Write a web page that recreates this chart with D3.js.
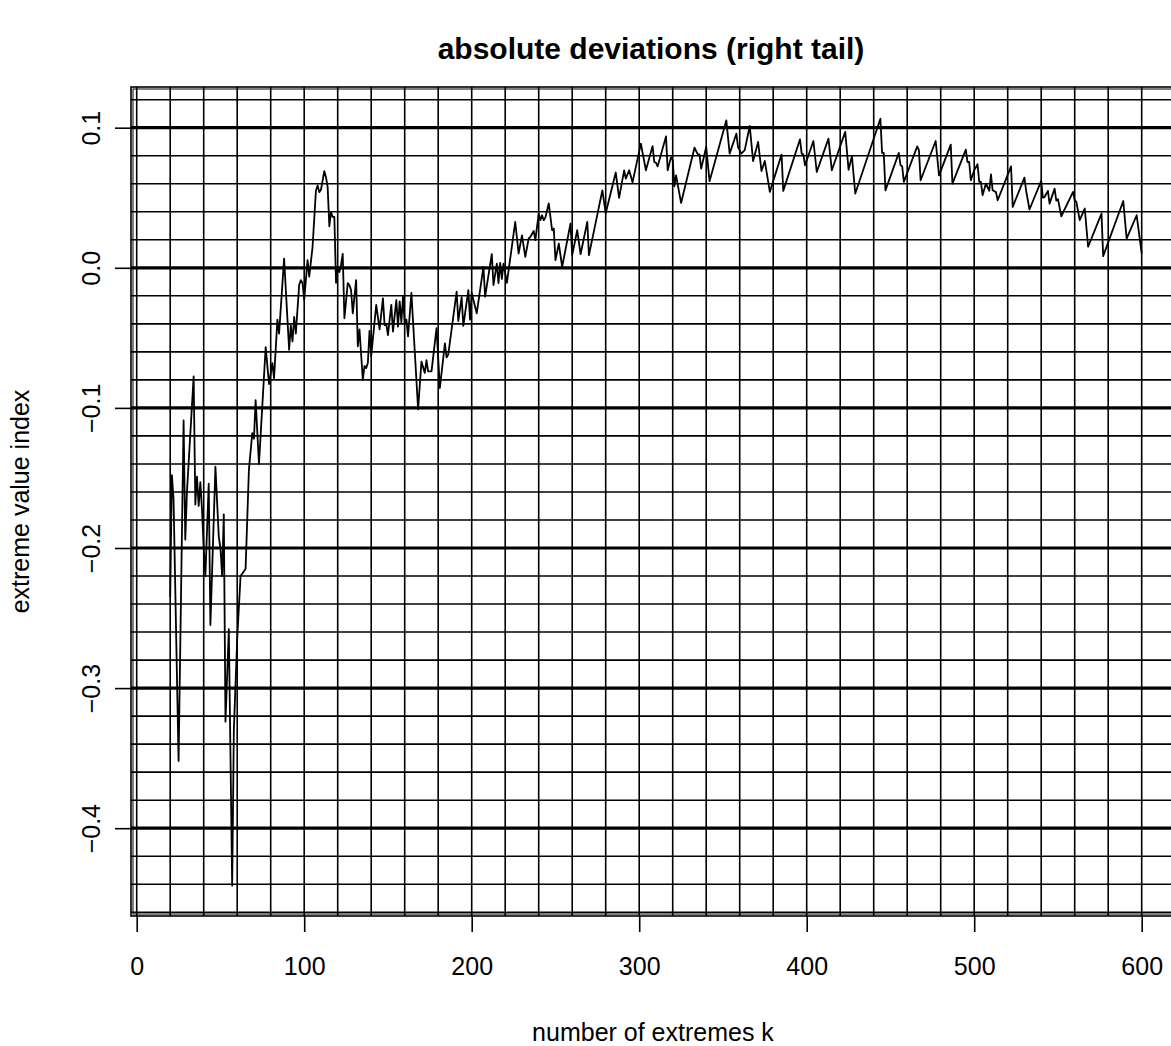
<!DOCTYPE html>
<html><head><meta charset="utf-8">
<script src="https://cdn.jsdelivr.net/npm/d3@7"></script>
<style>body{margin:0;background:#fff}</style>
</head><body>
<script>
// number of extremes k
const ks = [20,21,22,25,28,29,30,34,35,36,37,38,39,40,41,43,44,47,49,50,51,52,53,55,57,
58,60,62,65,67,69,70,71,73,77,79,81,82,84,85,88,91,92,93,94,95,97,98,99,100,
102,103,105,107,108,109,110,112,113,114,115,116,117,118,119,120,121,122,123,124,
126,127,128,129,131,132,133,135,136,137,138,139,140,143,145,147,148,149,150,152,
153,155,156,157,158,159,160,161,162,164,168,170,172,173,174,176,179,181,184,185,
186,191,192,194,195,198,199,200,203,207,208,212,213,215,216,217,218,219,221,226,
228,230,232,234,235,237,238,240,241,242,243,244,246,248,249,250,252,254,259,260,
263,265,269,270,278,280,286,288,291,292,294,296,301,304,308,309,310,311,316,317,
319,320,321,322,325,333,335,336,337,340,342,352,354,358,359,361,363,366,368,371,
373,375,378,385,386,396,397,398,399,404,406,413,415,423,425,427,429,444,445,446,
447,455,456,457,458,466,467,468,477,479,486,487,495,496,497,498,500,502,503,504,
505,507,509,510,511,513,514,522,523,530,531,533,540,541,542,544,545,548,549,550,
552,559,560,561,563,566,568,576,577,589,591,597,600];
// extreme value index estimate
const evi = [-0.235,-0.148,-0.165,-0.352,-0.109,-0.194,-0.160,-0.0775,-0.169,-0.149,-0.170,-0.153,-0.173,-0.200,-0.220,-0.154,-0.255,-0.142,-0.192,-0.200,-0.220,-0.176,-0.324,-0.258,-0.441,
-0.330,-0.265,-0.220,-0.215,-0.144,-0.118,-0.122,-0.0945,-0.140,-0.0566,-0.083,-0.068,-0.079,-0.037,-0.047,0.0066,-0.0585,-0.041,-0.0526,-0.035,-0.047,-0.0123,-0.0088,-0.011,-0.023,
0.0055,-0.0064,0.015,0.055,0.0588,0.054,0.0557,0.069,0.0647,0.0576,0.0296,0.0398,0.0363,0.0363,-0.0107,-0.0005,-0.003,0.002,0.010,-0.036,
-0.011,-0.0123,-0.016,-0.0325,-0.0088,-0.056,-0.044,-0.0799,-0.070,-0.0716,-0.068,-0.045,-0.063,-0.0265,-0.044,-0.0218,-0.041,-0.040,-0.048,-0.0265,
-0.0455,-0.023,-0.042,-0.024,-0.039,-0.0206,-0.0396,-0.037,-0.049,-0.018,-0.101,-0.067,-0.075,-0.066,-0.074,-0.074,-0.043,-0.0858,-0.054,-0.064,
-0.062,-0.017,-0.038,-0.021,-0.0415,-0.016,-0.037,-0.018,-0.0325,0.0007,-0.0206,0.0097,-0.0123,0.003,-0.011,0.0035,-0.008,0.003,-0.0107,0.0327,
0.0102,0.0232,0.0078,0.0209,0.022,0.0263,0.0197,0.0386,0.034,0.0375,0.034,0.036,0.046,0.0268,0.028,0.0055,0.0173,0.0007,0.0316,0.009,
0.0268,0.0097,0.0328,0.009,0.0553,0.039,0.068,0.0499,0.0696,0.0637,0.0696,0.0610,0.0886,0.0696,0.0869,0.0755,0.075,0.0724,0.0938,0.0696,
0.079,0.0772,0.0582,0.066,0.0463,0.0857,0.081,0.081,0.0708,0.0862,0.0618,0.1052,0.0815,0.0957,0.0862,0.0815,0.084,0.1012,0.0762,0.0898,
0.0691,0.0762,0.0542,0.0808,0.0549,0.0917,0.0815,0.081,0.0732,0.0905,0.0684,0.0922,0.0696,0.097,0.070,0.0796,0.053,0.1064,0.082,0.082,
0.0553,0.082,0.0732,0.0725,0.0613,0.0867,0.084,0.0625,0.0905,0.066,0.0879,0.0601,0.0843,0.0755,0.0755,0.0625,0.0696,0.0739,0.0613,0.0613,
0.0518,0.0601,0.055,0.0667,0.0553,0.054,0.0482,0.0724,0.0435,0.0644,0.055,0.0416,0.062,0.0501,0.0505,0.0549,0.0458,0.0565,0.048,0.049,
0.0368,0.0542,0.0482,0.047,0.034,0.0423,0.015,0.0387,0.0083,0.0477,0.0209,0.0375,0.0102];

const xTicks = [0,100,200,300,400,500,600];
const yTicks = [-0.4,-0.3,-0.2,-0.1,0.0,0.1];
const xGridVals = [0,20,40,60,80,100,120,140,160,180,200,220,240,260,280,300,320,340,360,380,400,420,440,460,480,500,520,540,560,580,600,620];
const yGridVals = [-0.46,-0.44,-0.42,-0.40,-0.38,-0.36,-0.34,-0.32,-0.30,-0.28,-0.26,-0.24,-0.22,-0.20,-0.18,-0.16,-0.14,-0.12,-0.10,-0.08,-0.06,-0.04,-0.02,0.0,0.02,0.04,0.06,0.08,0.10,0.12];
const yMajor = [-0.4,-0.3,-0.2,-0.1,0.0,0.1];

const W = 1171, H = 1046;
const x = d3.scaleLinear().domain([0, 600]).range([136.7, 1141.7]);
const y = d3.scaleLinear().domain([-0.4, 0.1]).range([828.2, 127.7]);
const pL = 131, pR = 1181, pT = 87, pB = 916;

const svg = d3.select("body").append("svg").attr("width", W).attr("height", H)
  .style("font-family", "'Liberation Sans', Arial, Helvetica, sans-serif");
svg.append("rect").attr("width", W).attr("height", H).attr("fill", "#fff");

svg.append("clipPath").attr("id", "plotclip").append("rect")
  .attr("x", pL).attr("y", pT).attr("width", pR - pL).attr("height", pB - pT);

const g = svg.append("g").attr("clip-path", "url(#plotclip)");
g.selectAll("line.vg").data(xGridVals).join("line").attr("class", "vg")
  .attr("x1", d => x(d)).attr("x2", d => x(d)).attr("y1", pT).attr("y2", pB)
  .attr("stroke", "#000").attr("stroke-width", 1.6);
g.selectAll("line.hg").data(yGridVals).join("line").attr("class", "hg")
  .attr("x1", pL).attr("x2", pR).attr("y1", d => y(d)).attr("y2", d => y(d))
  .attr("stroke", "#000").attr("stroke-width", 1.6);
g.selectAll("line.hm").data(yMajor).join("line").attr("class", "hm")
  .attr("x1", pL).attr("x2", pR).attr("y1", d => y(d)).attr("y2", d => y(d))
  .attr("stroke", "#000").attr("stroke-width", 3.2);

const pts = ks.map((k, i) => [k, evi[i]]);
g.append("path").datum(pts)
  .attr("d", d3.line().x(d => x(d[0])).y(d => y(d[1])))
  .attr("fill", "none").attr("stroke", "#000").attr("stroke-width", 1.8).attr("stroke-linejoin", "round");

svg.append("rect").attr("x", pL).attr("y", pT).attr("width", pR - pL).attr("height", pB - pT)
  .attr("fill", "none").attr("stroke", "#000").attr("stroke-width", 1.6);
svg.append("rect").attr("x", pL + 2).attr("y", pT + 2).attr("width", pR - pL - 4).attr("height", pB - pT - 4)
  .attr("fill", "none").attr("stroke", "#000").attr("stroke-width", 1);

const xAxis = d3.axisBottom(x).tickValues(xTicks).tickFormat(d3.format("d")).tickSize(16).tickPadding(25);
const gx = svg.append("g").attr("transform", `translate(0,${pB})`).call(xAxis);
gx.select(".domain").remove();
gx.selectAll(".tick line").attr("stroke", "#000").attr("stroke-width", 1.6);
gx.selectAll(".tick text").attr("font-size", 25).attr("fill", "#000").attr("font-family", "'Liberation Sans', Arial, sans-serif");

const fmtY = d => d3.format(".1f")(d).replace("-", "\u2212");
const yAxis = d3.axisLeft(y).tickValues(yTicks).tickFormat(fmtY).tickSize(16).tickPadding(0);
const gy = svg.append("g").attr("transform", `translate(${pL},0)`).call(yAxis);
gy.select(".domain").remove();
gy.selectAll(".tick line").attr("stroke", "#000").attr("stroke-width", 1.6);
gy.selectAll(".tick text").attr("font-size", 25).attr("fill", "#000")
  .attr("font-family", "'Liberation Sans', Arial, sans-serif")
  .attr("x", null).attr("dy", null)
  .attr("text-anchor", "middle")
  .attr("transform", "translate(-31,0) rotate(-90)");

svg.append("text").attr("x", 651).attr("y", 59).attr("text-anchor", "middle")
  .attr("font-size", 30).attr("font-weight", "bold").text("absolute deviations (right tail)");
svg.append("text").attr("x", 653).attr("y", 1041).attr("text-anchor", "middle")
  .attr("font-size", 25).text("number of extremes k");
svg.append("text").attr("transform", `translate(29,${(pT + pB) / 2}) rotate(-90)`).attr("text-anchor", "middle")
  .attr("font-size", 25).text("extreme value index");
</script>
</body></html>
